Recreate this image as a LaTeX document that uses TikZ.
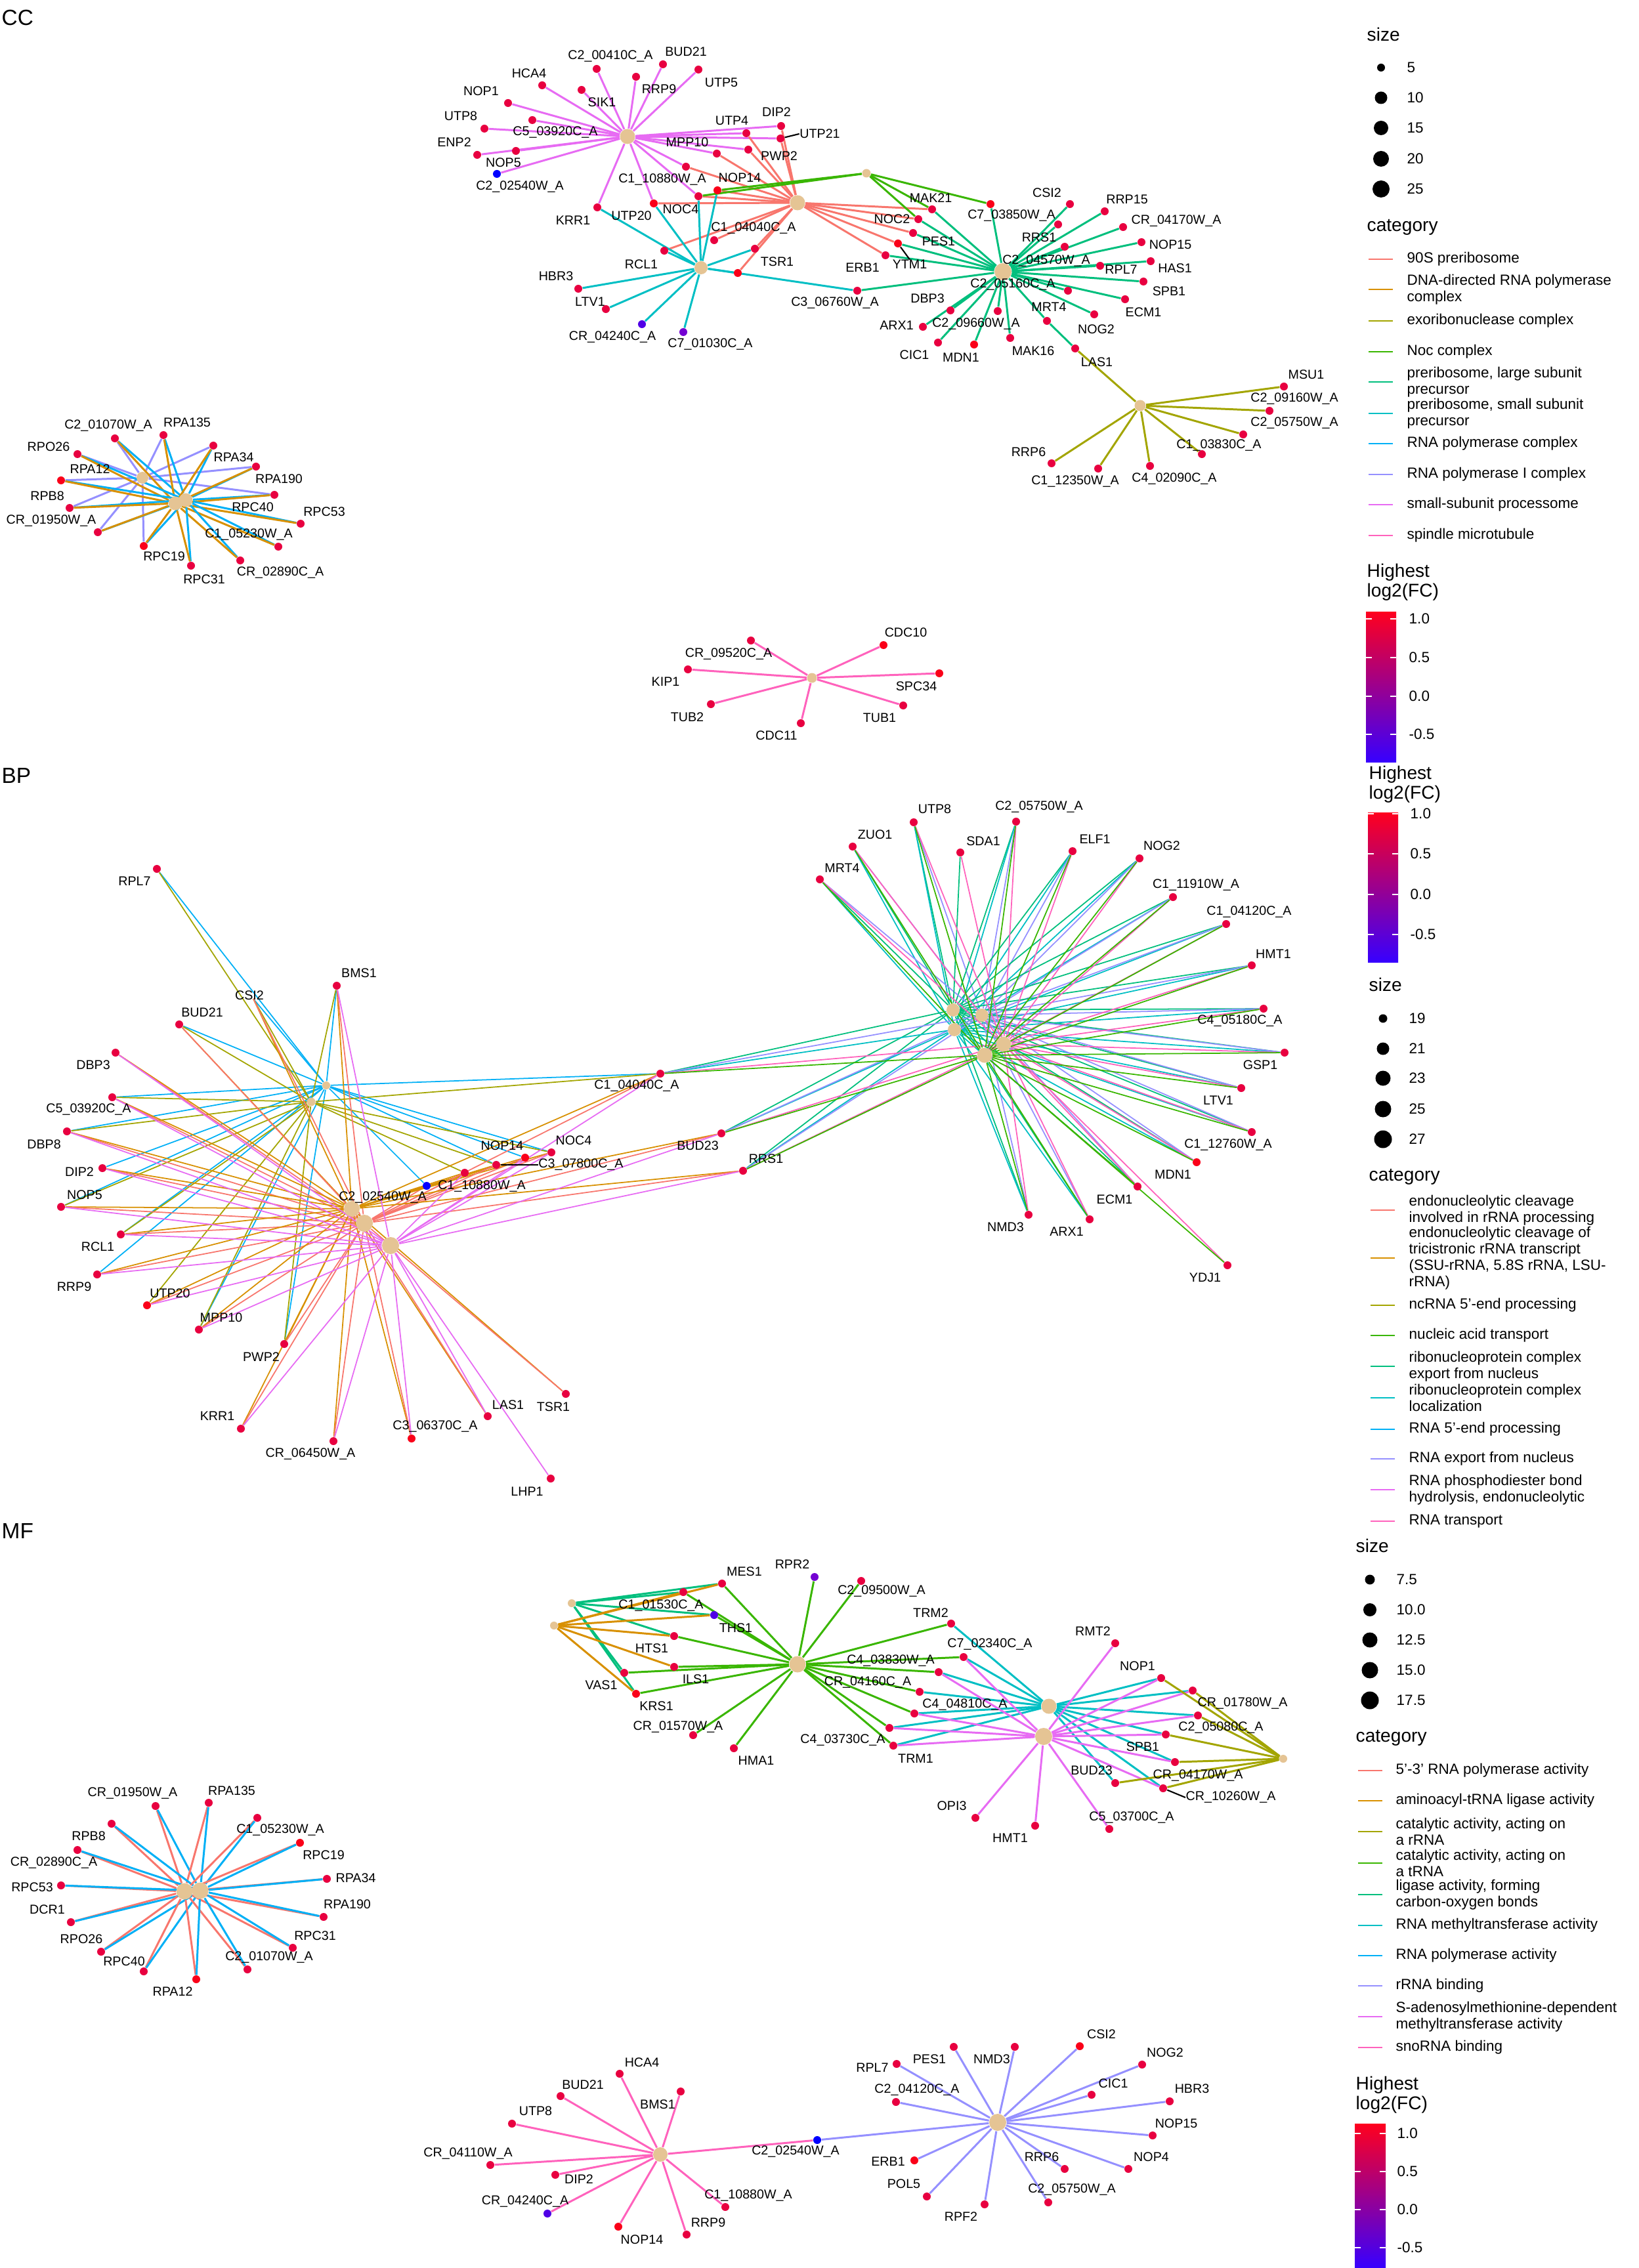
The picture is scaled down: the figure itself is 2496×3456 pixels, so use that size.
\documentclass[tikz,border=0pt]{standalone}
\usepackage{fontspec}
\setmainfont{Liberation Sans}
\usetikzlibrary{backgrounds}
\definecolor{hueA}{HTML}{F8766D}
\definecolor{hueB}{HTML}{D89000}
\definecolor{hueC}{HTML}{A3A500}
\definecolor{hueD}{HTML}{39B600}
\definecolor{hueE}{HTML}{00BF7D}
\definecolor{hueF}{HTML}{00BFC4}
\definecolor{hueG}{HTML}{00B0F6}
\definecolor{hueH}{HTML}{9590FF}
\definecolor{hueI}{HTML}{E76BF3}
\definecolor{hueJ}{HTML}{FF62BC}
\definecolor{hubtan}{HTML}{E5C494}
\definecolor{fcup}{RGB}{232,0,64}
\definecolor{fchi}{RGB}{250,0,25}
\definecolor{fclo}{RGB}{0,0,255}
\definecolor{fcmid}{RGB}{80,0,230}
\definecolor{fcmidb}{RGB}{115,0,210}
\definecolor{cbhi}{RGB}{255,0,30}
\definecolor{cbmid}{RGB}{185,0,140}
\definecolor{cblo}{RGB}{55,0,255}
\tikzset{
  gene/.style={circle,fill=fcup,inner sep=0,minimum size=1.2mm},
  hub/.style={circle,fill=hubtan,inner sep=0},
  lbl/.style={font=\fontsize{5.6}{6}\selectfont,inner sep=0},
  sect/.style={font=\fontsize{9.5}{10}\selectfont,anchor=west,inner sep=0},
  legttl/.style={font=\fontsize{8}{8.6}\selectfont,anchor=west,align=left,inner sep=0},
  legtxt/.style={font=\fontsize{6.4}{7.1}\selectfont,anchor=west,align=left,inner sep=0},
  keyline/.style={line width=0.7pt},
  lead/.style={black,line width=0.6pt},
  ccw/.style={line width=0.85pt},
  bpw/.style={line width=0.5pt},
  mfw/.style={line width=0.85pt}
}
\newcommand\gn[7][fcup]{\node[gene,fill=#1] (#2) at (#3,#4) {};\node[lbl] (#2t) at (#5,#6) {#7};}
\begin{document}
\begin{tikzpicture}[x=0.1mm,y=-0.1mm]
\begin{pgfonlayer}{background}
\fill[white] (0,0) rectangle (2496,3456);
\end{pgfonlayer}
\useasboundingbox (0,0) rectangle (2496,3456);

\node[sect] (cc-title) at (2,27) {CC};
\node[sect] (bp-title) at (2,1182) {BP};
\node[sect] (mf-title) at (2,2333) {MF};

\node[hub,minimum size=2.3mm] (cc-ssu) at (956,208) {};
\node[hub,minimum size=2.3mm] (cc-90s) at (1215,309) {};
\node[hub,minimum size=2.0mm] (cc-pss) at (1068,408) {};
\node[hub,minimum size=1.3mm] (cc-noc) at (1320,264) {};
\node[hub,minimum size=2.6mm] (cc-lsu) at (1528,414) {};
\node[hub,minimum size=1.7mm] (cc-exo) at (1737,618) {};
\node[hub,minimum size=1.8mm] (cc-poli) at (217,728) {};
\node[hub,minimum size=2.1mm] (cc-dna) at (267,767) {};
\node[hub,minimum size=2.1mm] (cc-pol) at (283,762) {};
\node[hub,minimum size=1.5mm] (cc-spn) at (1237,1033) {};

\gn{cc-c2-00410}{909}{105}{930}{86}{C2\_00410C\_A}
\gn{cc-bud21}{1010}{98}{1045}{79}{BUD21}
\gn{cc-rrp9}{969}{117}{1004}{136}{RRP9}
\gn{cc-utp5}{1064}{106}{1099}{126}{UTP5}
\gn{cc-hca4}{826}{130}{806}{112}{HCA4}
\gn{cc-sik1}{886}{137}{917}{156}{SIK1}
\gn{cc-nop1}{774}{157}{733}{139}{NOP1}
\gn{cc-c5-03920}{811}{183}{846}{202}{C5\_03920C\_A}
\gn{cc-utp8}{738}{196}{702}{177}{UTP8}
\gn{cc-enp2}{727}{236}{692}{217}{ENP2}
\gn{cc-nop5}{786}{230}{767}{248}{NOP5}
\gn[fclo]{cc-c2-02540}{757}{265}{792}{285}{C2\_02540W\_A}
\gn{cc-dip2}{1190}{192}{1183}{171}{DIP2}
\gn{cc-utp4}{1137}{203}{1115}{184}{UTP4}
\gn{cc-utp21}{1189}{211}{1249}{204}{UTP21}
\gn{cc-mpp10}{1092}{234}{1047}{217}{MPP10}
\gn{cc-pwp2}{1140}{228}{1187}{238}{PWP2}
\gn{cc-c1-10880}{1045}{254}{1009}{274}{C1\_10880W\_A}
\gn[fchi]{cc-nop14}{1093}{290}{1127}{271}{NOP14}
\gn{cc-noc4}{1064}{299}{1037}{319}{NOC4}
\gn[fchi]{cc-utp20}{996}{310}{962}{329}{UTP20}
\gn{cc-krr1}{910}{316}{873}{336}{KRR1}
\gn{cc-c1-04040}{1088}{366}{1148}{348}{C1\_04040C\_A}
\gn{cc-rcl1}{1012}{382}{977}{403}{RCL1}
\gn{cc-tsr1}{1150}{379}{1184}{399}{TSR1}
\node[gene,fill=fchi] (cc-tsrb) at (1124,416) {};
\gn{cc-hbr3}{881}{440}{847}{421}{HBR3}
\gn{cc-ltv1}{923}{471}{899}{460}{LTV1}
\gn[fcmid]{cc-cr-04240}{978}{494}{933}{514}{CR\_04240C\_A}
\gn[fcmidb]{cc-c7-01030}{1041}{506}{1082}{525}{C7\_01030C\_A}
\gn{cc-c3-06760}{1306}{443}{1272}{462}{C3\_06760W\_A}
\gn{cc-mak21}{1420}{319}{1418}{302}{MAK21}
\gn{cc-noc2}{1399}{334}{1359}{334}{NOC2}
\gn{cc-pes1}{1391}{355}{1430}{368}{PES1}
\gn[fchi]{cc-ytm1}{1368}{371}{1386}{403}{YTM1}
\gn{cc-erb1}{1349}{389}{1314}{408}{ERB1}
\gn[fchi]{cc-c7-03850}{1509}{311}{1541}{329}{C7\_03850W\_A}
\gn{cc-csi2}{1630}{311}{1595}{294}{CSI2}
\gn{cc-rrp15}{1683}{322}{1717}{304}{RRP15}
\gn{cc-rrs1}{1612}{342}{1583}{362}{RRS1}
\gn{cc-cr-04170}{1711}{346}{1792}{337}{CR\_04170W\_A}
\gn{cc-c2-04570}{1622}{376}{1594}{398}{C2\_04570W\_A}
\gn{cc-nop15}{1739}{369}{1783}{373}{NOP15}
\gn{cc-rpl7}{1676}{405}{1708}{411}{RPL7}
\gn{cc-has1}{1753}{398}{1790}{409}{HAS1}
\gn{cc-spb1}{1742}{429}{1781}{444}{SPB1}
\gn{cc-c2-05160}{1627}{443}{1543}{434}{C2\_05160C\_A}
\gn{cc-ecm1}{1714}{456}{1742}{476}{ECM1}
\gn{cc-dbp3}{1448}{473}{1413}{455}{DBP3}
\gn{cc-c2-09660}{1520}{474}{1487}{494}{C2\_09660W\_A}
\gn{cc-arx1}{1406}{498}{1366}{496}{ARX1}
\gn{cc-mrt4}{1595}{489}{1598}{468}{MRT4}
\gn{cc-nog2}{1667}{479}{1670}{502}{NOG2}
\gn{cc-cic1}{1429}{522}{1393}{541}{CIC1}
\gn[fchi]{cc-mdn1}{1484}{525}{1464}{545}{MDN1}
\gn{cc-mak16}{1539}{515}{1574}{535}{MAK16}
\gn{cc-las1}{1638}{531}{1671}{552}{LAS1}
\gn{cc-msu1}{1956}{589}{1990}{571}{MSU1}
\gn{cc-c2-09160}{1934}{626}{1972}{608}{C2\_09160W\_A}
\gn{cc-c2-05750}{1894}{662}{1972}{645}{C2\_05750W\_A}
\gn{cc-c1-03830}{1831}{692}{1857}{679}{C1\_03830C\_A}
\gn{cc-rrp6}{1602}{706}{1567}{689}{RRP6}
\gn{cc-c1-12350}{1673}{714}{1638}{734}{C1\_12350W\_A}
\gn{cc-c4-02090}{1752}{710}{1789}{730}{C4\_02090C\_A}

\gn{cc-c2-01070}{175}{668}{165}{649}{C2\_01070W\_A}
\gn{cc-rpa135}{249}{663}{285}{644}{RPA135}
\gn{cc-rpo26}{118}{692}{74}{681}{RPO26}
\gn{cc-rpa34}{325}{679}{356}{697}{RPA34}
\gn[fchi]{cc-rpa12}{93}{732}{137}{715}{RPA12}
\gn{cc-rpb8}{106}{774}{72}{756}{RPB8}
\gn{cc-cr-01950}{149}{811}{78}{794}{CR\_01950W\_A}
\gn{cc-rpa190}{390}{711}{425}{730}{RPA190}
\gn{cc-rpc40}{418}{754}{385}{773}{RPC40}
\gn{cc-rpc53}{458}{798}{494}{780}{RPC53}
\gn{cc-c1-05230}{424}{833}{379}{815}{C1\_05230W\_A}
\gn{cc-cr-02890}{366}{854}{427}{873}{CR\_02890C\_A}
\gn[fchi]{cc-rpc19}{219}{832}{250}{848}{RPC19}
\gn{cc-rpc31}{291}{862}{311}{883}{RPC31}

\gn{cc-cr-09520}{1144}{976}{1110}{997}{CR\_09520C\_A}
\gn[fchi]{cc-cdc10}{1346}{983}{1380}{964}{CDC10}
\gn{cc-kip1}{1048}{1020}{1014}{1039}{KIP1}
\gn[fchi]{cc-spc34}{1431}{1026}{1396}{1046}{SPC34}
\gn{cc-tub2}{1083}{1073}{1047}{1093}{TUB2}
\gn{cc-tub1}{1376}{1075}{1340}{1094}{TUB1}
\gn{cc-cdc11}{1220}{1102}{1183}{1121}{CDC11}

\draw[lead] (cc-utp21) -- (cc-utp21t.west);
\draw[lead] (cc-ytm1) -- (cc-ytm1t.north);

\begin{pgfonlayer}{background}
\foreach \g in {cc-c2-00410,cc-bud21,cc-rrp9,cc-utp5,cc-hca4,cc-sik1,cc-nop1,cc-c5-03920,cc-utp8,cc-enp2,cc-nop5,cc-c2-02540,cc-dip2,cc-utp4,cc-utp21,cc-mpp10,cc-pwp2,cc-c1-10880,cc-noc4,cc-utp20,cc-krr1}
  \draw[ccw,hueI] (cc-ssu) -- (\g);
\foreach \g in {cc-dip2,cc-utp21,cc-utp4,cc-pwp2,cc-mpp10,cc-c1-10880,cc-nop14,cc-noc4,cc-utp20,cc-c1-04040,cc-rcl1,cc-tsr1,cc-tsrb,cc-mak21,cc-noc2,cc-pes1,cc-ytm1,cc-erb1}
  \draw[ccw,hueA] (cc-90s) -- (\g);
\foreach \g in {cc-krr1,cc-utp20,cc-noc4,cc-nop14,cc-tsr1,cc-tsrb,cc-hbr3,cc-ltv1,cc-cr-04240,cc-c7-01030,cc-c3-06760,cc-rcl1}
  \draw[ccw,hueF] (cc-pss) -- (\g);
\foreach \g in {cc-nop14,cc-noc4,cc-mak21,cc-noc2,cc-c7-03850}
  \draw[ccw,hueD] (cc-noc) -- (\g);
\foreach \g in {cc-mak21,cc-noc2,cc-pes1,cc-ytm1,cc-erb1,cc-c3-06760,cc-c7-03850,cc-csi2,cc-rrp15,cc-rrs1,cc-cr-04170,cc-c2-04570,cc-nop15,cc-rpl7,cc-has1,cc-spb1,cc-c2-05160,cc-ecm1,cc-nog2,cc-dbp3,cc-arx1,cc-c2-09660,cc-cic1,cc-mdn1,cc-mak16,cc-mrt4}
  \draw[ccw,hueE] (cc-lsu) -- (\g);
\draw[ccw,hueE] (cc-mrt4) -- (cc-las1);
\foreach \g in {cc-las1,cc-msu1,cc-c2-09160,cc-c2-05750,cc-c1-03830,cc-rrp6,cc-c1-12350,cc-c4-02090}
  \draw[ccw,hueC] (cc-exo) -- (\g);
\foreach \g in {cc-c2-01070,cc-rpa135,cc-rpo26,cc-rpa34,cc-rpa12,cc-rpb8,cc-cr-01950,cc-rpa190,cc-rpc40,cc-rpc19}
  \draw[ccw,hueH] (cc-poli) -- (\g);
\foreach \g in {cc-c2-01070,cc-rpa135,cc-rpo26,cc-rpa34,cc-rpa12,cc-rpb8,cc-cr-01950,cc-rpa190,cc-rpc40,cc-rpc53,cc-c1-05230,cc-cr-02890,cc-rpc19,cc-rpc31}{
  \draw[ccw,hueG] (cc-pol) -- (\g);
  \draw[ccw,hueB] (cc-dna) -- (\g);
}
\foreach \g in {cc-cr-09520,cc-cdc10,cc-kip1,cc-spc34,cc-tub2,cc-tub1,cc-cdc11}
  \draw[ccw,hueJ] (cc-spn) -- (\g);
\end{pgfonlayer}

\node[hub,minimum size=1.2mm] (bp-rna5) at (497,1654) {};
\node[hub,minimum size=1.3mm] (bp-nc5) at (474,1679) {};
\node[hub,minimum size=2.4mm] (bp-tri) at (536,1842) {};
\node[hub,minimum size=2.6mm] (bp-end) at (555,1864) {};
\node[hub,minimum size=2.6mm] (bp-pde) at (595,1898) {};
\node[hub,minimum size=2.0mm] (bp-rce) at (1452,1539) {};
\node[hub,minimum size=2.0mm] (bp-rex) at (1496,1547) {};
\node[hub,minimum size=2.0mm] (bp-rcl) at (1454,1569) {};
\node[hub,minimum size=2.3mm] (bp-rtr) at (1529,1591) {};
\node[hub,minimum size=2.3mm] (bp-nat) at (1500,1608) {};

\gn{bp-rpl7}{239}{1324}{205}{1343}{RPL7}
\gn{bp-bms1}{513}{1502}{547}{1483}{BMS1}
\coordinate (bp-csi2) at (386,1522);
\node[lbl] (bp-csi2t) at (380,1517) {CSI2};
\gn{bp-bud21}{273}{1561}{308}{1543}{BUD21}
\gn{bp-dbp3}{176}{1604}{142}{1623}{DBP3}
\gn{bp-c5-03920}{171}{1672}{135}{1691}{C5\_03920C\_A}
\gn{bp-dbp8}{102}{1724}{67}{1744}{DBP8}
\gn{bp-dip2}{156}{1780}{121}{1786}{DIP2}
\gn{bp-nop5}{93}{1839}{129}{1821}{NOP5}
\gn{bp-rcl1}{184}{1881}{149}{1900}{RCL1}
\gn{bp-rrp9}{148}{1942}{113}{1961}{RRP9}
\gn[fchi]{bp-utp20}{224}{1989}{259}{1971}{UTP20}
\gn{bp-mpp10}{303}{2026}{337}{2008}{MPP10}
\gn{bp-pwp2}{433}{2048}{398}{2068}{PWP2}
\gn{bp-krr1}{367}{2177}{331}{2158}{KRR1}
\gn{bp-cr-06450}{508}{2196}{473}{2216}{CR\_06450W\_A}
\gn[fchi]{bp-c3-06370}{627}{2192}{663}{2174}{C3\_06370C\_A}
\gn{bp-las1}{743}{2158}{774}{2141}{LAS1}
\gn{bp-tsr1}{862}{2124}{843}{2144}{TSR1}
\gn{bp-lhp1}{839}{2253}{803}{2273}{LHP1}
\gn[fclo]{bp-c2-02540}{650}{1807}{583}{1825}{C2\_02540W\_A}
\gn{bp-c1-10880}{708}{1787}{734}{1808}{C1\_10880W\_A}
\gn[fchi]{bp-nop14}{800}{1764}{765}{1746}{NOP14}
\gn{bp-noc4}{840}{1756}{874}{1738}{NOC4}
\gn{bp-c3-07800}{756}{1775}{885}{1775}{C3\_07800C\_A}
\gn{bp-c1-04040}{1006}{1636}{970}{1655}{C1\_04040C\_A}
\gn{bp-bud23}{1099}{1727}{1063}{1746}{BUD23}
\gn{bp-rrs1}{1132}{1784}{1167}{1766}{RRS1}

\gn{bp-utp8}{1392}{1253}{1424}{1233}{UTP8}
\gn{bp-c2-05750}{1548}{1252}{1583}{1230}{C2\_05750W\_A}
\gn{bp-zuo1}{1299}{1290}{1333}{1272}{ZUO1}
\gn{bp-sda1}{1463}{1299}{1498}{1282}{SDA1}
\gn{bp-elf1}{1634}{1297}{1668}{1279}{ELF1}
\gn{bp-nog2}{1736}{1308}{1770}{1289}{NOG2}
\gn{bp-mrt4}{1249}{1340}{1283}{1323}{MRT4}
\gn{bp-c1-11910}{1787}{1367}{1822}{1349}{C1\_11910W\_A}
\gn{bp-c1-04120}{1868}{1408}{1903}{1390}{C1\_04120C\_A}
\gn{bp-hmt1}{1907}{1471}{1940}{1454}{HMT1}
\gn{bp-c4-05180}{1925}{1537}{1889}{1556}{C4\_05180C\_A}
\gn{bp-gsp1}{1957}{1604}{1920}{1623}{GSP1}
\gn{bp-ltv1}{1891}{1658}{1856}{1677}{LTV1}
\gn{bp-c1-12760}{1907}{1725}{1871}{1745}{C1\_12760W\_A}
\gn[fchi]{bp-mdn1}{1823}{1771}{1787}{1790}{MDN1}
\gn{bp-ecm1}{1733}{1808}{1698}{1828}{ECM1}
\gn{bp-ydj1}{1870}{1928}{1836}{1947}{YDJ1}
\gn{bp-nmd3}{1567}{1851}{1532}{1870}{NMD3}
\gn{bp-arx1}{1660}{1858}{1625}{1877}{ARX1}

\draw[lead] (bp-c3-07800) -- (bp-c3-07800t.west);

\begin{pgfonlayer}{background}
\foreach \g in {bp-rpl7,bp-csi2,bp-bud21,bp-bms1,bp-c5-03920,bp-dbp8,bp-dip2,bp-nop5,bp-rcl1,bp-rrp9,bp-mpp10,bp-pwp2,bp-c1-04040,bp-nop14,bp-noc4,bp-c3-07800,bp-c2-02540}
  \draw[bpw,hueG] (bp-rna5) -- (\g);
\foreach \g in {bp-rpl7,bp-csi2,bp-bud21,bp-bms1,bp-c5-03920,bp-dbp8,bp-nop5,bp-rcl1,bp-utp20,bp-mpp10,bp-pwp2,bp-c1-04040,bp-noc4,bp-c3-07800,bp-c1-10880}
  \draw[bpw,hueC] (bp-nc5) -- (\g);
\foreach \g in {bp-csi2,bp-bud21,bp-dbp3,bp-c5-03920,bp-dbp8,bp-dip2,bp-nop5,bp-rcl1,bp-rrp9,bp-utp20,bp-mpp10,bp-pwp2,bp-krr1,bp-cr-06450,bp-c3-06370,bp-las1,bp-tsr1,bp-bms1,bp-c2-02540,bp-c1-10880,bp-nop14,bp-noc4,bp-c3-07800,bp-c1-04040,bp-bud23,bp-rrs1}{
  \draw[bpw,hueB] (bp-tri) -- (\g);
  \draw[bpw,hueA] (bp-end) -- (\g);
}
\foreach \g in {bp-dbp3,bp-c5-03920,bp-dbp8,bp-dip2,bp-nop5,bp-rcl1,bp-rrp9,bp-utp20,bp-mpp10,bp-krr1,bp-cr-06450,bp-c3-06370,bp-las1,bp-lhp1,bp-bms1,bp-c1-04040,bp-bud23,bp-rrs1,bp-noc4,bp-c1-10880,bp-nop14}
  \draw[bpw,hueI] (bp-pde) -- (\g);
\foreach \g in {bp-utp8,bp-c2-05750,bp-zuo1,bp-elf1,bp-nog2,bp-mrt4,bp-c1-11910,bp-c1-04120,bp-hmt1,bp-c4-05180,bp-gsp1,bp-ltv1,bp-c1-12760,bp-mdn1,bp-ecm1,bp-nmd3,bp-arx1,bp-rrs1,bp-bud23,bp-c1-04040}{
  \draw[bpw,hueE] (bp-rce) -- (\g);
  \draw[bpw,hueF] (bp-rcl) -- (\g);
  \draw[bpw,hueH] (bp-rex) -- (\g);
}
\draw[bpw,hueE] (bp-rce) -- (bp-sda1);
\foreach \g in {bp-utp8,bp-c2-05750,bp-zuo1,bp-sda1,bp-elf1,bp-nog2,bp-mrt4,bp-c1-11910,bp-c1-04120,bp-hmt1,bp-c4-05180,bp-gsp1,bp-ltv1,bp-c1-12760,bp-mdn1,bp-ecm1,bp-ydj1,bp-nmd3,bp-arx1,bp-rrs1,bp-bud23,bp-c1-04040}
  \draw[bpw,hueJ] (bp-rtr) -- (\g);
\foreach \g in {bp-utp8,bp-c2-05750,bp-zuo1,bp-elf1,bp-nog2,bp-mrt4,bp-c1-11910,bp-c1-04120,bp-hmt1,bp-c4-05180,bp-gsp1,bp-ltv1,bp-c1-12760,bp-mdn1,bp-ecm1,bp-ydj1,bp-nmd3,bp-arx1,bp-rrs1,bp-bud23,bp-c1-04040}
  \draw[bpw,hueD] (bp-nat) -- (\g);
\end{pgfonlayer}

\node[hub,minimum size=2.5mm] (mf-ttr) at (1215,2536) {};
\node[hub,minimum size=1.2mm] (mf-lco) at (871,2443) {};
\node[hub,minimum size=1.2mm] (mf-aal) at (844,2477) {};
\node[hub,minimum size=2.3mm] (mf-rmt) at (1598,2600) {};
\node[hub,minimum size=2.6mm] (mf-sam) at (1590,2646) {};
\node[hub,minimum size=1.2mm] (mf-rrn) at (1955,2680) {};
\node[hub,minimum size=2.5mm] (mf-p53) at (281,2882) {};
\node[hub,minimum size=2.5mm] (mf-pol) at (305,2881) {};
\node[hub,minimum size=2.2mm] (mf-sno) at (1006,3283) {};
\node[hub,minimum size=2.6mm] (mf-rrb) at (1520,3234) {};

\gn{mf-mes1}{1100}{2413}{1134}{2395}{MES1}
\gn[fcmidb]{mf-rpr2}{1241}{2403}{1207}{2384}{RPR2}
\gn{mf-c2-09500}{1312}{2409}{1343}{2425}{C2\_09500W\_A}
\gn{mf-c1-01530}{1041}{2426}{1007}{2447}{C1\_01530C\_A}
\gn[fcmid]{mf-ths1}{1088}{2461}{1121}{2481}{THS1}
\gn{mf-hts1}{1027}{2493}{993}{2512}{HTS1}
\gn{mf-ils1}{1027}{2540}{1060}{2559}{ILS1}
\gn{mf-vas1}{951}{2549}{916}{2568}{VAS1}
\gn[fchi]{mf-krs1}{969}{2581}{1000}{2600}{KRS1}
\gn{mf-cr-01570}{1056}{2644}{1033}{2632}{CR\_01570W\_A}
\gn{mf-hma1}{1118}{2664}{1152}{2683}{HMA1}
\gn{mf-trm2}{1449}{2474}{1418}{2458}{TRM2}
\gn{mf-c7-02340}{1468}{2525}{1508}{2506}{C7\_02340C\_A}
\gn{mf-c4-03830}{1430}{2548}{1357}{2531}{C4\_03830W\_A}
\gn{mf-cr-04160}{1401}{2578}{1322}{2564}{CR\_04160C\_A}
\gn{mf-c4-04810}{1393}{2611}{1470}{2598}{C4\_04810C\_A}
\gn{mf-c4-03730}{1355}{2633}{1284}{2652}{C4\_03730C\_A}
\gn{mf-trm1}{1361}{2660}{1395}{2680}{TRM1}
\gn{mf-rmt2}{1699}{2504}{1665}{2486}{RMT2}
\gn{mf-nop1}{1769}{2557}{1733}{2539}{NOP1}
\gn{mf-cr-01780}{1817}{2576}{1893}{2596}{CR\_01780W\_A}
\gn{mf-c2-05080}{1825}{2614}{1860}{2633}{C2\_05080C\_A}
\gn{mf-spb1}{1776}{2643}{1741}{2662}{SPB1}
\gn{mf-cr-04170}{1790}{2685}{1825}{2706}{CR\_04170W\_A}
\gn{mf-cr-10260}{1772}{2725}{1875}{2739}{CR\_10260W\_A}
\gn{mf-bud23}{1699}{2717}{1663}{2698}{BUD23}
\gn{mf-opi3}{1486}{2770}{1450}{2752}{OPI3}
\gn{mf-hmt1}{1577}{2782}{1539}{2801}{HMT1}
\gn{mf-c5-03700}{1690}{2787}{1724}{2770}{C5\_03700C\_A}

\gn{mf-cr-01950}{237}{2752}{202}{2733}{CR\_01950W\_A}
\gn{mf-rpa135}{318}{2747}{353}{2729}{RPA135}
\gn{mf-rpb8}{170}{2779}{135}{2798}{RPB8}
\gn{mf-c1-05230}{392}{2770}{427}{2789}{C1\_05230W\_A}
\gn[fchi]{mf-rpc19}{457}{2808}{493}{2827}{RPC19}
\gn{mf-cr-02890}{118}{2819}{82}{2839}{CR\_02890C\_A}
\gn{mf-rpc53}{93}{2873}{49}{2876}{RPC53}
\gn{mf-rpa34}{498}{2863}{542}{2862}{RPA34}
\gn{mf-dcr1}{108}{2929}{72}{2910}{DCR1}
\gn{mf-rpa190}{493}{2921}{529}{2902}{RPA190}
\gn{mf-rpo26}{154}{2974}{124}{2955}{RPO26}
\gn{mf-rpc31}{446}{2968}{480}{2950}{RPC31}
\gn{mf-rpc40}{219}{3004}{189}{2989}{RPC40}
\gn{mf-c2-01070}{377}{3001}{410}{2983}{C2\_01070W\_A}
\gn[fchi]{mf-rpa12}{299}{3016}{263}{3035}{RPA12}

\gn{mf-hca4}{944}{3160}{978}{3143}{HCA4}
\gn{mf-bud21}{854}{3194}{888}{3177}{BUD21}
\gn{mf-bms1}{1037}{3187}{1002}{3207}{BMS1}
\gn{mf-utp8}{780}{3236}{816}{3217}{UTP8}
\gn{mf-cr-04110}{747}{3299}{713}{3282}{CR\_04110W\_A}
\gn{mf-dip2}{846}{3314}{882}{3321}{DIP2}
\gn[fcmid]{mf-cr-04240}{834}{3373}{800}{3355}{CR\_04240C\_A}
\gn{mf-c1-10880}{1105}{3363}{1140}{3346}{C1\_10880W\_A}
\gn[fchi]{mf-nop14}{942}{3393}{978}{3413}{NOP14}
\gn{mf-rrp9}{1046}{3405}{1079}{3387}{RRP9}
\gn[fclo]{mf-c2-02540}{1245}{3261}{1212}{3279}{C2\_02540W\_A}
\gn{mf-rpl7}{1366}{3145}{1329}{3151}{RPL7}
\gn{mf-pes1}{1453}{3119}{1416}{3138}{PES1}
\gn{mf-nmd3}{1546}{3119}{1511}{3138}{NMD3}
\gn[fchi]{mf-csi2}{1645}{3118}{1678}{3100}{CSI2}
\gn{mf-nog2}{1740}{3146}{1775}{3128}{NOG2}
\gn{mf-c2-04120}{1365}{3203}{1397}{3185}{C2\_04120C\_A}
\gn{mf-cic1}{1663}{3192}{1696}{3175}{CIC1}
\gn{mf-hbr3}{1782}{3202}{1816}{3183}{HBR3}
\gn{mf-nop15}{1756}{3254}{1792}{3236}{NOP15}
\gn[fchi]{mf-erb1}{1393}{3292}{1353}{3294}{ERB1}
\gn{mf-rrp6}{1622}{3305}{1587}{3287}{RRP6}
\gn{mf-nop4}{1719}{3305}{1754}{3287}{NOP4}
\gn{mf-pol5}{1412}{3347}{1377}{3328}{POL5}
\gn{mf-rpf2}{1500}{3359}{1464}{3378}{RPF2}
\gn{mf-c2-05750}{1597}{3356}{1633}{3337}{C2\_05750W\_A}

\draw[lead] (mf-cr-10260) -- (mf-cr-10260t.west);

\begin{pgfonlayer}{background}
\foreach \g in {mf-mes1,mf-rpr2,mf-c2-09500,mf-c1-01530,mf-ths1,mf-hts1,mf-ils1,mf-vas1,mf-krs1,mf-cr-01570,mf-hma1,mf-trm2,mf-c7-02340,mf-c4-03830,mf-cr-04160,mf-c4-04810,mf-c4-03730,mf-trm1}
  \draw[mfw,hueD] (mf-ttr) -- (\g);
\foreach \g in {mf-mes1,mf-c1-01530,mf-ths1,mf-hts1,mf-vas1,mf-krs1}
  \draw[mfw,hueE] (mf-lco) -- (\g);
\foreach \g in {mf-mes1,mf-c1-01530,mf-ths1,mf-hts1,mf-ils1,mf-krs1}
  \draw[mfw,hueB] (mf-aal) -- (\g);
\foreach \g in {mf-trm2,mf-c7-02340,mf-c4-03830,mf-cr-04160,mf-c4-04810,mf-c4-03730,mf-trm1,mf-nop1,mf-cr-01780,mf-c2-05080,mf-spb1,mf-cr-04170,mf-bud23,mf-cr-10260}
  \draw[mfw,hueF] (mf-rmt) -- (\g);
\foreach \g in {mf-c7-02340,mf-c4-03830,mf-c4-04810,mf-c4-03730,mf-trm1,mf-rmt2,mf-nop1,mf-cr-01780,mf-c2-05080,mf-spb1,mf-cr-04170,mf-cr-10260,mf-opi3,mf-hmt1,mf-c5-03700}
  \draw[mfw,hueI] (mf-sam) -- (\g);
\foreach \g in {mf-nop1,mf-cr-01780,mf-c2-05080,mf-spb1,mf-cr-04170,mf-bud23,mf-cr-10260}
  \draw[mfw,hueC] (mf-rrn) -- (\g);
\foreach \g in {mf-cr-01950,mf-rpa135,mf-rpb8,mf-c1-05230,mf-rpc19,mf-cr-02890,mf-rpc53,mf-rpa34,mf-dcr1,mf-rpa190,mf-rpo26,mf-rpc31,mf-rpc40,mf-c2-01070,mf-rpa12}{
  \draw[mfw,hueA] (mf-p53) -- (\g);
  \draw[mfw,hueG] (mf-pol) -- (\g);
}
\foreach \g in {mf-hca4,mf-bud21,mf-bms1,mf-utp8,mf-cr-04110,mf-dip2,mf-cr-04240,mf-c1-10880,mf-nop14,mf-rrp9,mf-c2-02540}
  \draw[mfw,hueJ] (mf-sno) -- (\g);
\foreach \g in {mf-c2-02540,mf-rpl7,mf-pes1,mf-nmd3,mf-csi2,mf-nog2,mf-c2-04120,mf-cic1,mf-hbr3,mf-nop15,mf-erb1,mf-rrp6,mf-nop4,mf-pol5,mf-rpf2,mf-c2-05750}
  \draw[mfw,hueH] (mf-rrb) -- (\g);
\end{pgfonlayer}

\node[legttl] (cc-size) at (2082,52) {size};
\foreach \yy/\d/\v [count=\i] in {103/1.2/5,149/1.9/10,195/2.2/15,242/2.4/20,288/2.6/25}{
  \node[circle,fill=black,inner sep=0,minimum size=\d mm] (cc-sz\i) at (2104,\yy) {};
  \node[legtxt] (cc-szt\i) at (2143,\yy) {\v};
}
\node[legttl] (cc-cat) at (2082,346) {category};
\foreach \yy/\col/\lab [count=\i] in {395/hueA/{90S preribosome},441/hueB/{DNA-directed RNA polymerase\\complex},489/hueC/{exoribonuclease complex},536/hueD/{Noc complex},582/hueE/{preribosome, large subunit\\precursor},630/hueF/{preribosome, small subunit\\precursor},676/hueG/{RNA polymerase complex},723/hueH/{RNA polymerase I complex},769/hueI/{small-subunit processome},816/hueJ/{spindle microtubule}}{
  \draw[keyline,\col] (2085,\yy) -- (2122,\yy);
  \node[legtxt] (cc-key\i) at (2143,\yy) {\lab};
}
\node[legttl] (cc-fc) at (2082,887) {Highest\\log2(FC)};
\shade[top color=cbhi,middle color=cbmid,bottom color=cblo] (2081,932) rectangle (2127,1161);
\foreach \yy/\v [count=\i] in {943/1.0,1002/0.5,1061/0.0,1119/-0.5}{
  \draw[white,line width=0.5pt] (2081,\yy) -- ++(9,0) (2127,\yy) -- ++(-9,0);
  \node[legtxt] (cc-fct\i) at (2146,\yy) {\v};
}

\node[legttl] (bp-fc) at (2085,1195) {Highest\\log2(FC)};
\shade[top color=cbhi,middle color=cbmid,bottom color=cblo] (2084,1238) rectangle (2130,1466);
\foreach \yy/\v [count=\i] in {1240/1.0,1301/0.5,1363/0.0,1424/-0.5}{
  \draw[white,line width=0.5pt] (2084,\yy) -- ++(9,0) (2130,\yy) -- ++(-9,0);
  \node[legtxt] (bp-fct\i) at (2148,\yy) {\v};
}
\node[legttl] (bp-size) at (2085,1500) {size};
\foreach \yy/\d/\v [count=\i] in {1552/1.3/19,1598/1.9/21,1643/2.3/23,1690/2.5/25,1736/2.7/27}{
  \node[circle,fill=black,inner sep=0,minimum size=\d mm] (bp-sz\i) at (2107,\yy) {};
  \node[legtxt] (bp-szt\i) at (2146,\yy) {\v};
}
\node[legttl] (bp-cat) at (2085,1793) {category};
\foreach \yy/\col/\lab [count=\i] in {1844/hueA/{endonucleolytic cleavage\\involved in rRNA processing},1917/hueB/{endonucleolytic cleavage of\\tricistronic rRNA transcript\\(SSU-rRNA, 5.8S rRNA, LSU-\\rRNA)},1989/hueC/{ncRNA 5'-end processing},2035/hueD/{nucleic acid transport},2082/hueE/{ribonucleoprotein complex\\export from nucleus},2130/hueF/{ribonucleoprotein complex\\localization},2178/hueG/{RNA 5'-end processing},2223/hueH/{RNA export from nucleus},2270/hueI/{RNA phosphodiester bond\\hydrolysis, endonucleolytic},2318/hueJ/{RNA transport}}{
  \draw[keyline,\col] (2088,\yy) -- (2125,\yy);
  \node[legtxt] (bp-key\i) at (2146,\yy) {\lab};
}

\node[legttl] (mf-size) at (2065,2355) {size};
\foreach \yy/\d/\v [count=\i] in {2407/1.5/7.5,2453/2.0/10.0,2499/2.3/12.5,2545/2.5/15.0,2591/2.7/17.5}{
  \node[circle,fill=black,inner sep=0,minimum size=\d mm] (mf-sz\i) at (2087,\yy) {};
  \node[legtxt] (mf-szt\i) at (2127,\yy) {\v};
}
\node[legttl] (mf-cat) at (2065,2648) {category};
\foreach \yy/\col/\lab [count=\i] in {2698/hueA/{5'-3' RNA polymerase activity},2744/hueB/{aminoacyl-tRNA ligase activity},2791/hueC/{catalytic activity, acting on\\a rRNA},2839/hueD/{catalytic activity, acting on\\a tRNA},2887/hueE/{ligase activity, forming\\carbon-oxygen bonds},2934/hueF/{RNA methyltransferase activity},2980/hueG/{RNA polymerase activity},3026/hueH/{rRNA binding},3073/hueI/{S-adenosylmethionine-dependent\\methyltransferase activity},3120/hueJ/{snoRNA binding}}{
  \draw[keyline,\col] (2069,\yy) -- (2106,\yy);
  \node[legtxt] (mf-key\i) at (2126,\yy) {\lab};
}
\node[legttl] (mf-fc) at (2065,3192) {Highest\\log2(FC)};
\shade[top color=cbhi,middle color=cbmid,bottom color=cblo] (2064,3236) rectangle (2111,3456);
\foreach \yy/\v [count=\i] in {3251/1.0,3309/0.5,3367/0.0,3425/-0.5}{
  \draw[white,line width=0.5pt] (2064,\yy) -- ++(9,0) (2111,\yy) -- ++(-9,0);
  \node[legtxt] (mf-fct\i) at (2128,\yy) {\v};
}
\end{tikzpicture}
\end{document}
